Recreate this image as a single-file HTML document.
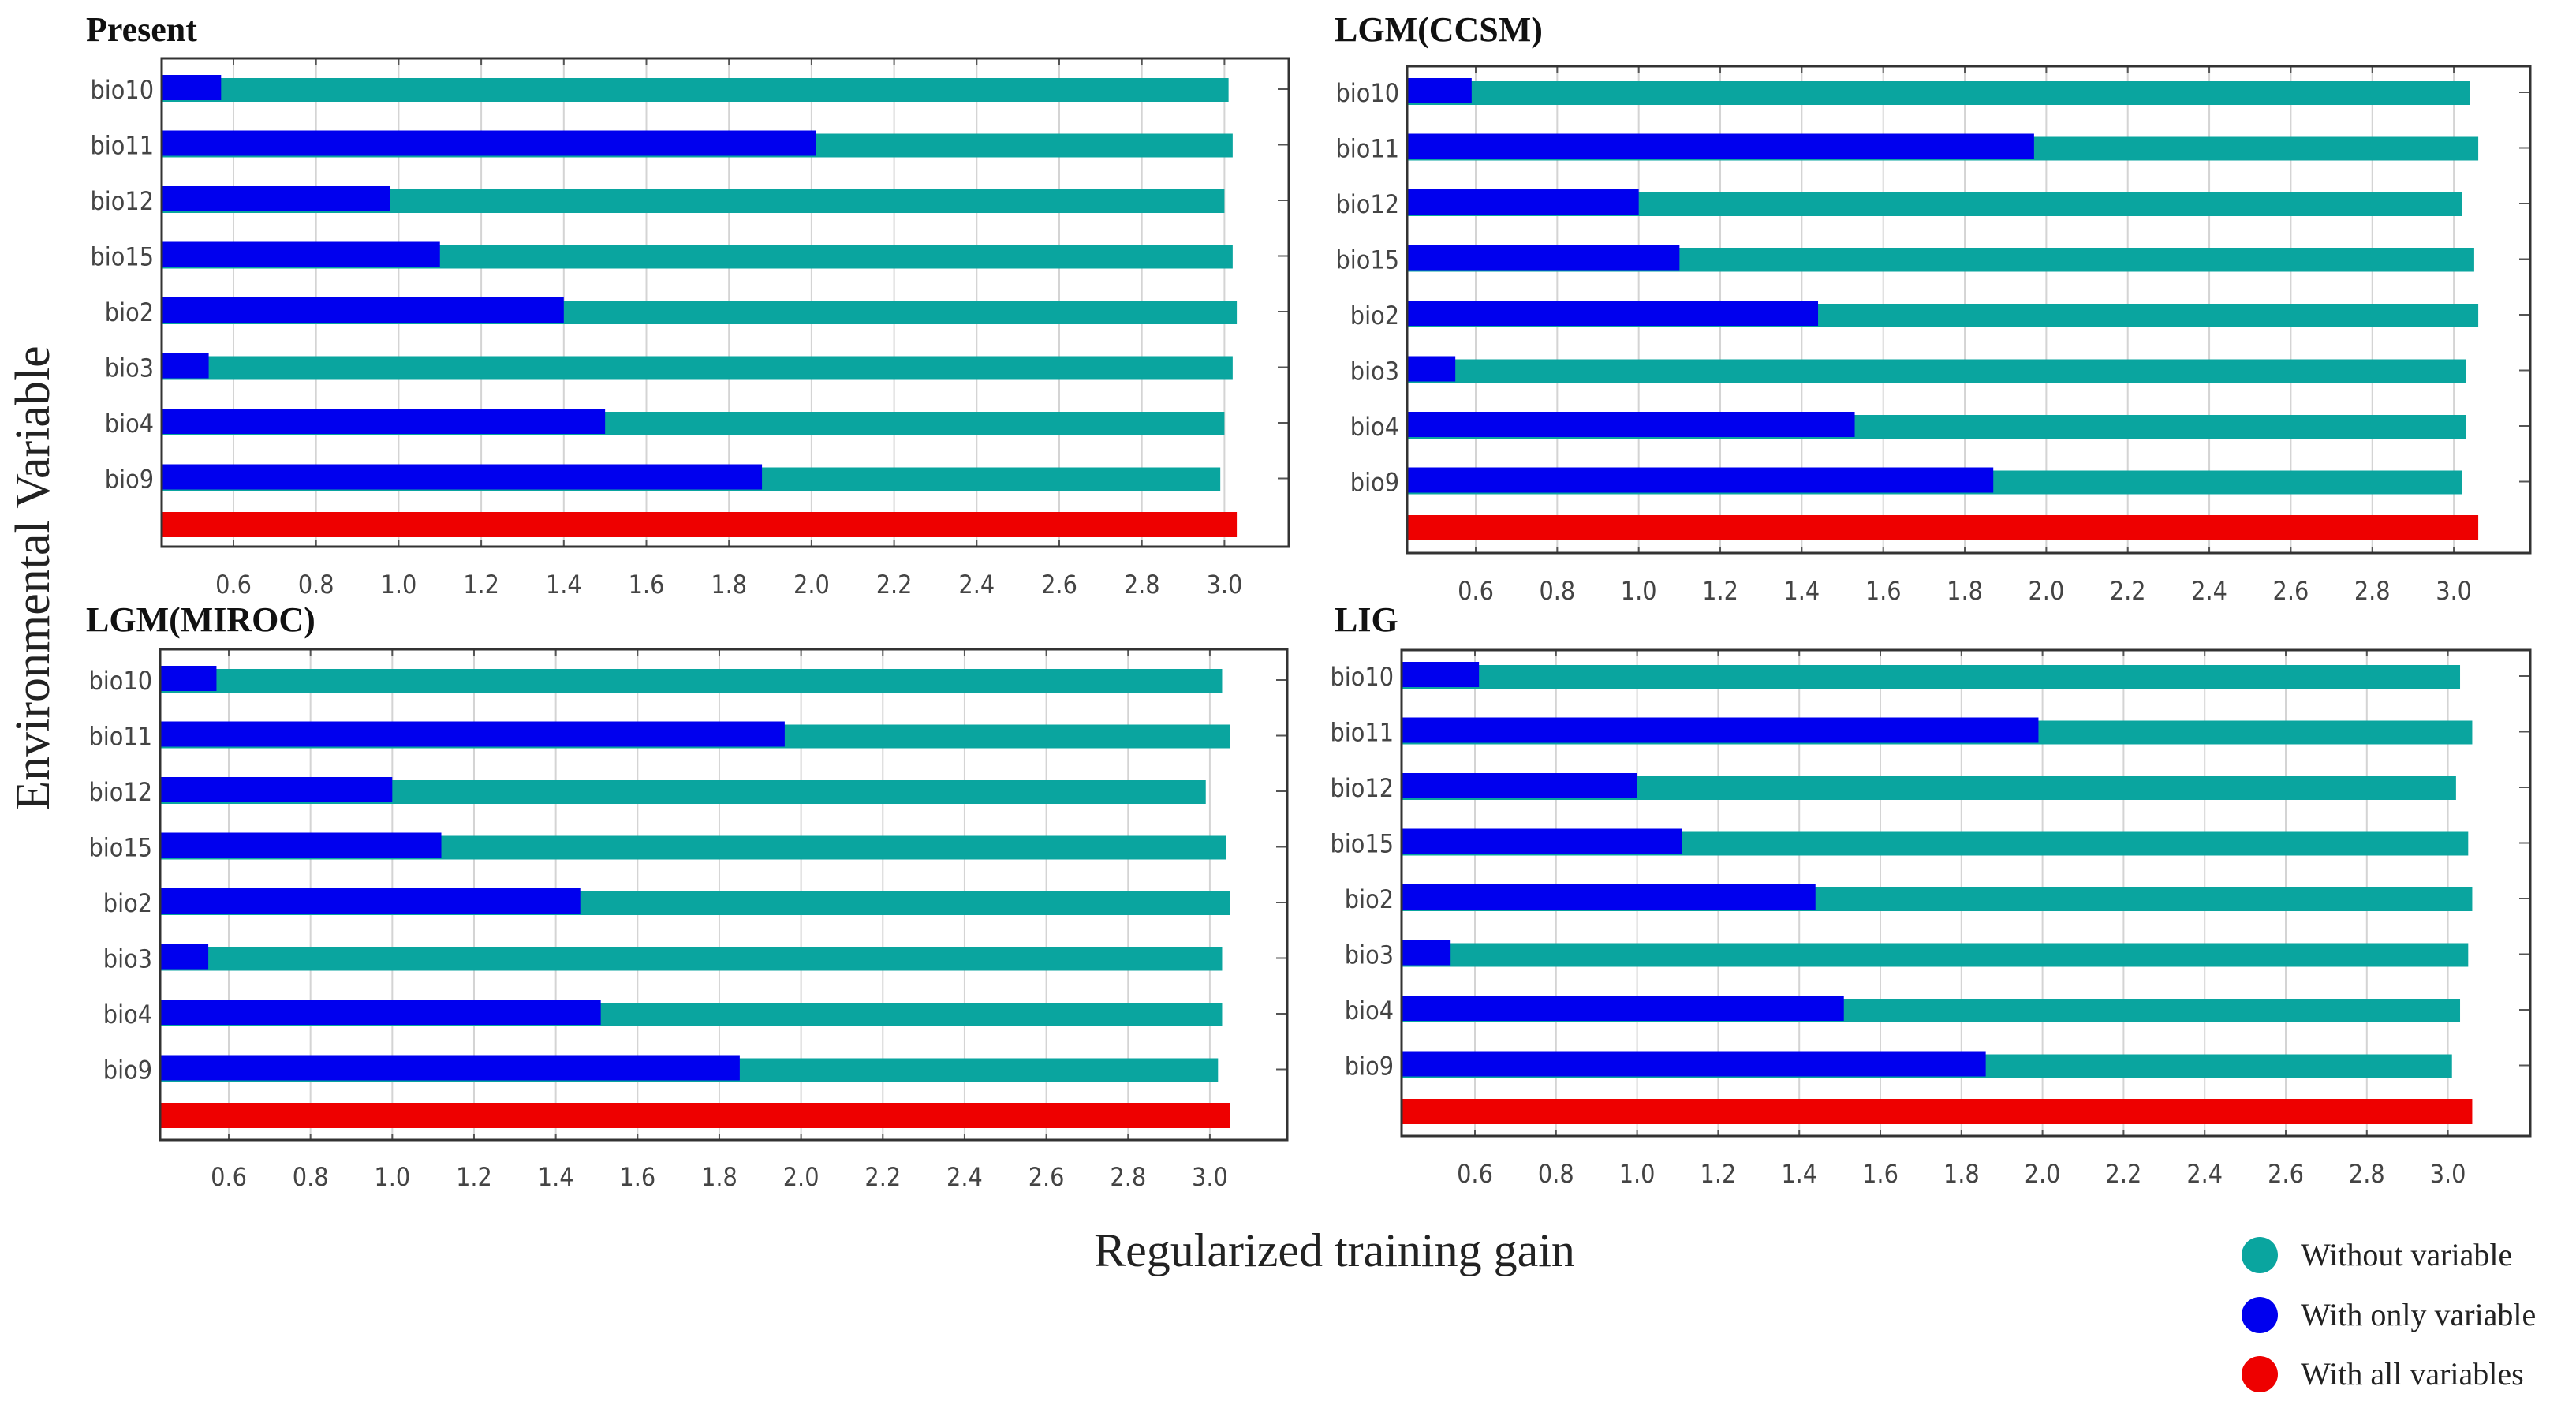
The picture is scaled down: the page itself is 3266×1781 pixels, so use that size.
<!DOCTYPE html>
<html><head><meta charset="utf-8"><style>
html,body{margin:0;padding:0;background:#fff;}
svg{display:block;}
.tick{font-family:"Liberation Sans Narrow","DejaVu Sans Condensed","Liberation Sans",sans-serif;font-size:32px;fill:#444;}
.ptitle{font-family:"Liberation Serif",serif;font-weight:bold;font-size:44px;fill:#111;}
.serif{font-family:"Liberation Serif",serif;fill:#222;}
</style></head><body>
<svg id="chart" width="3266" height="1781" viewBox="0 0 3266 1781" xmlns="http://www.w3.org/2000/svg">
<rect width="3266" height="1781" fill="#fff"/>
<text class="serif" font-size="62" transform="translate(62,733) rotate(-90)" text-anchor="middle">Environmental Variable</text>
<text class="serif" font-size="60" x="1692" y="1605" text-anchor="middle">Regularized training gain</text>
<g>
<circle cx="2865" cy="1591" r="23" fill="#0aa59f"/>
<text class="serif" font-size="40" x="2917" y="1604">Without variable</text>
<circle cx="2865" cy="1667" r="23" fill="#0000ee"/>
<text class="serif" font-size="40" x="2917" y="1680">With only variable</text>
<circle cx="2865" cy="1742" r="23" fill="#ee0000"/>
<text class="serif" font-size="40" x="2917" y="1755">With all variables</text>
</g>
</svg>
<script>
const categories = ["bio10","bio11","bio12","bio15","bio2","bio3","bio4","bio9"];
const tickLabels = ["0.6","0.8","1.0","1.2","1.4","1.6","1.8","2.0","2.2","2.4","2.6","2.8","3.0"];
const panelTitles = ["Present","LGM(CCSM)","LGM(MIROC)","LIG"];
const presentOnly = [0.57,2.01,0.98,1.10,1.40,0.54,1.50,1.88];
const presentWithout = [3.01,3.02,3.00,3.02,3.03,3.02,3.00,2.99];
const presentAll = 3.03;
const ccsmOnly = [0.59,1.97,1.00,1.10,1.44,0.55,1.53,1.87];
const ccsmWithout = [3.04,3.06,3.02,3.05,3.06,3.03,3.03,3.02];
const ccsmAll = 3.06;
const mirocOnly = [0.57,1.96,1.00,1.12,1.46,0.55,1.51,1.85];
const mirocWithout = [3.03,3.05,2.99,3.04,3.05,3.03,3.03,3.02];
const mirocAll = 3.05;
const ligOnly = [0.61,1.99,1.00,1.11,1.44,0.54,1.51,1.86];
const ligWithout = [3.03,3.06,3.02,3.05,3.06,3.05,3.03,3.01];
const ligAll = 3.06;

const NS="http://www.w3.org/2000/svg";
const svg=document.getElementById('chart');
function mk(tag,attrs,parent){const e=document.createElementNS(NS,tag);for(const k in attrs)e.setAttribute(k,attrs[k]);(parent||svg).appendChild(e);return e;}
const layouts=[
 {l:205,t:74,w:1429,h:619,tx:109,ty:52,ly:752,x0:296,k:523.5,dy:0},
 {l:1784,t:84,w:1424,h:617,tx:1692,ty:52,ly:760,x0:1871,k:516.7,dy:-6},
 {l:203,t:823,w:1429,h:622,tx:109,ty:800,ly:1503,x0:290,k:518.3,dy:0},
 {l:1777,t:824,w:1431,h:616,tx:1692,ty:800,ly:1499,x0:1870,k:514,dy:-6}
];
const onlyS=[presentOnly,ccsmOnly,mirocOnly,ligOnly];
const withoutS=[presentWithout,ccsmWithout,mirocWithout,ligWithout];
const allS=[presentAll,ccsmAll,mirocAll,ligAll];
layouts.forEach((L,p)=>{
  const g=mk('g',{});
  
  
  const xs=v=>L.x0+(v-0.6)*L.k;
  const ys=i=>L.t+39+L.dy+i*70.5;
  const t=mk('text',{class:'ptitle',x:L.tx,y:L.ty},g);t.textContent=panelTitles[p];
  
  
  tickLabels.forEach(lab=>{
    const x=xs(parseFloat(lab));
    const gl=mk('line',{x1:x,x2:x,y1:L.t,y2:L.t+L.h,stroke:'#d4d4d4','stroke-width':2},g);
    
    
    mk('line',{x1:x,x2:x,y1:L.t+L.h-8,y2:L.t+L.h,stroke:'#555','stroke-width':2},g);
    mk('line',{x1:x,x2:x,y1:L.t,y2:L.t+8,stroke:'#555','stroke-width':2},g);
    const tl=mk('text',{class:'tick',x:x,y:L.ly,'text-anchor':'middle'},g);tl.textContent=lab;
    
    
  });
  categories.forEach((c,i)=>{
    const y=ys(i);
    mk('line',{x1:L.l+L.w-14,x2:L.l+L.w,y1:y,y2:y,stroke:'#555','stroke-width':2},g);
    const tb=mk('rect',{x:L.l,y:y-14,width:xs(withoutS[p][i])-L.l,height:30,fill:'#0aa59f'},g);
    
    
    const bb=mk('rect',{x:L.l,y:y-18,width:xs(onlyS[p][i])-L.l,height:32,fill:'#0000ee'},g);
    
    
    const cl=mk('text',{class:'tick',x:L.l-10,y:y+12,'text-anchor':'end'},g);cl.textContent=c;
    
    
  });
  const ry=L.t+591+L.dy;
  const rb=mk('rect',{x:L.l,y:ry-16,width:xs(allS[p])-L.l,height:32,fill:'#ee0000'},g);
  
  
  const fr=mk('rect',{x:L.l,y:L.t,width:L.w,height:L.h,fill:'none',stroke:'#333','stroke-width':3},g);
  
  
});
</script>
</body></html>
